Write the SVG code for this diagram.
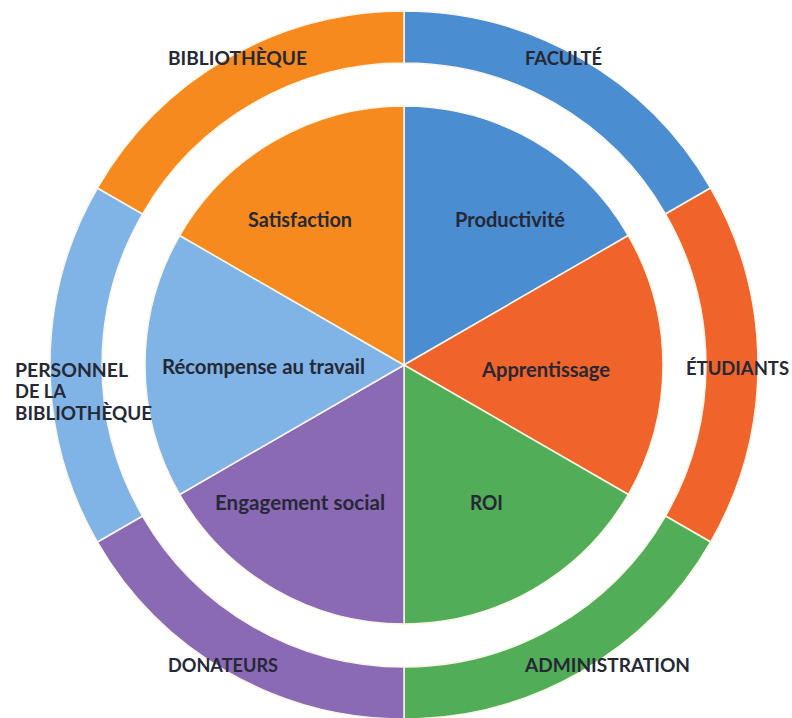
<svg xmlns="http://www.w3.org/2000/svg" width="792" height="718" viewBox="0 0 792 718">
  <style>
    .seg { stroke: #fbf5e6; stroke-width: 1.5; stroke-linejoin: round; }
    .blue { fill: #4a8dd0; }
    .orange { fill: #f68a1f; }
    .red { fill: #f0632a; }
    .green { fill: #51ad57; }
    .purple { fill: #8a69b5; }
    .sky { fill: #80b3e6; }
    .in { font-family: Lato, "Open Sans", "Liberation Sans", sans-serif; font-weight: 700; font-size: 20.5px; fill: #262835; text-anchor: start; }
    .out { font-family: Lato, "Open Sans", "Liberation Sans", sans-serif; font-weight: 700; font-size: 18px; fill: #262835; }
  </style>
  <rect width="792" height="718" fill="#ffffff"/>

  <!-- outer ring: stakeholders (r 302..354, centre 404,365) -->
  <g id="ring">
    <g id="ring-faculte"><path class="seg blue" d="M404 11 A354 354 0 0 1 710.6 188 L665.5 214 A302 302 0 0 0 404 63 Z"/></g>
    <g id="ring-etudiants"><path class="seg red" d="M710.6 188 A354 354 0 0 1 710.6 542 L665.5 516 A302 302 0 0 0 665.5 214 Z"/></g>
    <g id="ring-administration"><path class="seg green" d="M710.6 542 A354 354 0 0 1 404 719 L404 667 A302 302 0 0 0 665.5 516 Z"/></g>
    <g id="ring-donateurs"><path class="seg purple" d="M404 719 A354 354 0 0 1 97.4 542 L142.5 516 A302 302 0 0 0 404 667 Z"/></g>
    <g id="ring-personnel"><path class="seg sky" d="M97.4 542 A354 354 0 0 1 97.4 188 L142.5 214 A302 302 0 0 0 142.5 516 Z"/></g>
    <g id="ring-bibliotheque"><path class="seg orange" d="M97.4 188 A354 354 0 0 1 404 11 L404 63 A302 302 0 0 0 142.5 214 Z"/></g>
  </g>

  <!-- inner pie: value dimensions (r 259) -->
  <g id="pie">
    <g id="pie-productivite"><path class="seg blue" d="M404 365 L404 106 A259 259 0 0 1 628.3 235.5 Z"/></g>
    <g id="pie-apprentissage"><path class="seg red" d="M404 365 L628.3 235.5 A259 259 0 0 1 628.3 494.5 Z"/></g>
    <g id="pie-roi"><path class="seg green" d="M404 365 L628.3 494.5 A259 259 0 0 1 404 624 Z"/></g>
    <g id="pie-engagement"><path class="seg purple" d="M404 365 L404 624 A259 259 0 0 1 179.7 494.5 Z"/></g>
    <g id="pie-recompense"><path class="seg sky" d="M404 365 L179.7 494.5 A259 259 0 0 1 179.7 235.5 Z"/></g>
    <g id="pie-satisfaction"><path class="seg orange" d="M404 365 L179.7 235.5 A259 259 0 0 1 404 106 Z"/></g>
  </g>

  <!-- labels -->
  <g id="labels-inner">
    <text class="in" x="248" y="227" textLength="104" lengthAdjust="spacingAndGlyphs">Satisfaction</text>
    <text class="in" x="455" y="227" textLength="110" lengthAdjust="spacingAndGlyphs">Productivité</text>
    <text class="in" x="162" y="374" textLength="203" lengthAdjust="spacingAndGlyphs">Récompense au travail</text>
    <text class="in" x="482" y="377" textLength="128" lengthAdjust="spacingAndGlyphs">Apprentissage</text>
    <text class="in" x="215" y="510" textLength="170" lengthAdjust="spacingAndGlyphs">Engagement social</text>
    <text class="in" x="470" y="510" textLength="33" lengthAdjust="spacingAndGlyphs">ROI</text>
  </g>
  <g id="labels-outer">
    <text class="out" x="168" y="65" textLength="139" lengthAdjust="spacingAndGlyphs">BIBLIOTHÈQUE</text>
    <text class="out" x="525" y="65" textLength="77" lengthAdjust="spacingAndGlyphs">FACULTÉ</text>
    <text class="out" x="686" y="375" textLength="103" lengthAdjust="spacingAndGlyphs">ÉTUDIANTS</text>
    <text class="out" x="15" y="377" textLength="113" lengthAdjust="spacingAndGlyphs">PERSONNEL</text>
    <text class="out" x="15" y="398" textLength="51" lengthAdjust="spacingAndGlyphs">DE LA</text>
    <text class="out" x="15" y="420" textLength="137" lengthAdjust="spacingAndGlyphs">BIBLIOTHÈQUE</text>
    <text class="out" x="168" y="672" textLength="110" lengthAdjust="spacingAndGlyphs">DONATEURS</text>
    <text class="out" x="525" y="672" textLength="165" lengthAdjust="spacingAndGlyphs">ADMINISTRATION</text>
  </g>
</svg>
